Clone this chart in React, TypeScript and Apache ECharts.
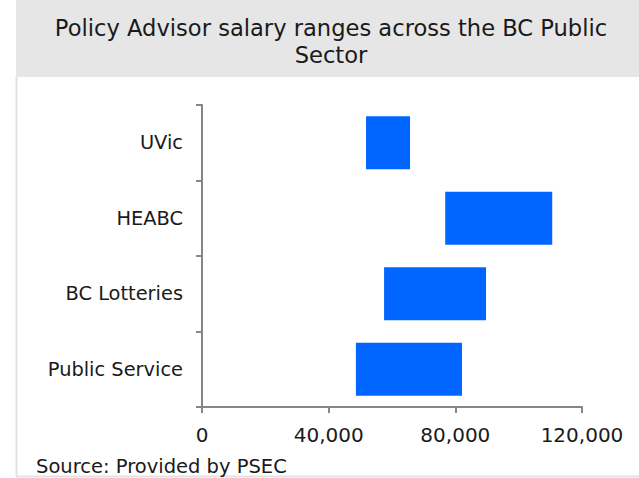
import React, { useEffect, useRef } from "react";
import * as echarts from "echarts";

const categories = ["Public Service", "BC Lotteries", "HEABC", "UVic"];
const salaryMin = [48600, 57500, 76800, 51800];
const salaryMax = [82100, 89700, 110600, 65700];
const xTicks = [0, 40000, 80000, 120000];

const titleLines = ["Policy Advisor salary ranges across the BC Public", "Sector"];
const sourceText = "Source: Provided by PSEC";

const FONT = "DejaVu Sans";

export default function App() {
  const ref = useRef<HTMLDivElement>(null);
  useEffect(() => {
    if (!ref.current) return;
    const chart = echarts.init(ref.current, undefined, { renderer: "svg" });
    const ranges = salaryMax.map((v, i) => v - salaryMin[i]);
    chart.setOption({
      animation: false,
      backgroundColor: "#ffffff",
      grid: { left: 202, right: 57, top: 105, bottom: 71, containLabel: false },
      xAxis: {
        type: "value",
        min: xTicks[0],
        max: xTicks[xTicks.length - 1],
        interval: 40000,
        splitLine: { show: false },
        axisLine: { show: true, lineStyle: { color: "#868686", width: 2 } },
        axisTick: { show: true, length: 6, lineStyle: { color: "#868686", width: 2 } },
        axisLabel: {
          margin: 18,
          fontFamily: FONT,
          fontSize: 20,
          color: "#1a1a1a",
          formatter: (v: number) => v.toLocaleString("en-US"),
        },
      },
      yAxis: {
        type: "category",
        data: categories,
        axisLine: { show: true, lineStyle: { color: "#868686", width: 2 } },
        axisTick: { show: true, length: 6, lineStyle: { color: "#868686", width: 2 } },
        axisLabel: { margin: 19, fontFamily: FONT, fontSize: 19.4, color: "#1a1a1a" },
      },
      series: [
        {
          type: "bar",
          stack: "r",
          data: salaryMin,
          itemStyle: { color: "transparent" },
          silent: true,
          barCategoryGap: "30%",
        },
        {
          type: "bar",
          stack: "r",
          data: ranges,
          itemStyle: { color: "#0066ff" },
          barCategoryGap: "30%",
        },
      ],
      graphic: [
        { type: "rect", shape: { x: 16, y: 0, width: 623, height: 77 }, style: { fill: "#e6e6e6" }, z: -10 },
        { type: "line", shape: { x1: 16.5, y1: 77, x2: 16.5, y2: 476 }, style: { stroke: "#e2e2e2", lineWidth: 2 } },
        { type: "line", shape: { x1: 16, y1: 476.5, x2: 639, y2: 476.5 }, style: { stroke: "#e2e2e2", lineWidth: 2 } },
        {
          type: "text",
          x: 331,
          y: 28,
          style: { text: titleLines[0], font: `22.6px "${FONT}"`, fill: "#1a1a1a", textAlign: "center", textVerticalAlign: "middle" },
        },
        {
          type: "text",
          x: 331,
          y: 55,
          style: { text: titleLines[1], font: `22.6px "${FONT}"`, fill: "#1a1a1a", textAlign: "center", textVerticalAlign: "middle" },
        },
        {
          type: "text",
          x: 36,
          y: 466,
          style: { text: sourceText, font: `19.5px "${FONT}"`, fill: "#1a1a1a", textAlign: "left", textVerticalAlign: "middle" },
        },
      ],
    });
    return () => chart.dispose();
  }, []);
  return <div ref={ref} style={{ position: "fixed", left: 0, top: 0, width: 639, height: 478 }} />;
}
